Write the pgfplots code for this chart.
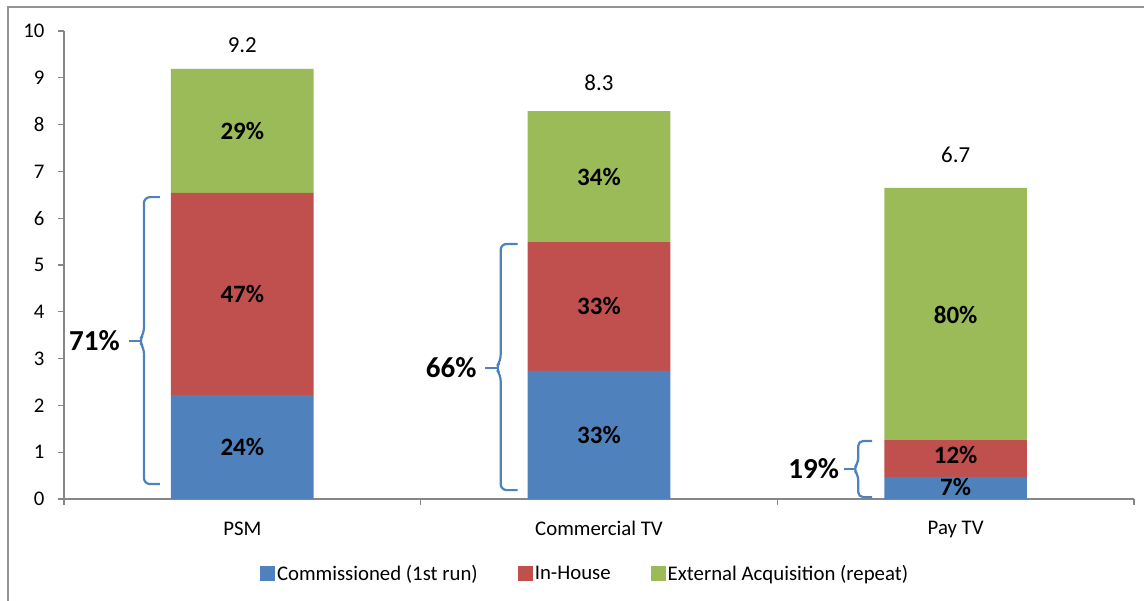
\documentclass[border=0pt]{standalone}
\usepackage{fontspec}
\setmainfont{Carlito}
\usepackage{pgfplots}
\usepackage{pgfplotstable}
\pgfplotsset{compat=1.18}

\definecolor{cblue}{HTML}{4F81BD}
\definecolor{cred}{HTML}{C0504D}
\definecolor{cgreen}{HTML}{9BBB59}
\definecolor{axgray}{HTML}{868686}

% shares of programme hours, stacked
\pgfplotstableread{
x comm inhouse ext
0 2.22 4.32 2.65
1 2.74 2.75 2.80
2 0.47 0.79 5.39
}\shares

% label positions (segment middles)
\pgfplotstableread{
x y label
0 1.11 24\%
0 4.38 47\%
0 7.86 29\%
1 1.37 33\%
1 4.12 33\%
1 6.88 34\%
2 0.26 7\%
2 0.94 12\%
2 3.94 80\%
}\seglabels

% totals, placed above the bars
\pgfplotstableread{
x y label
0 9.70 9.2
1 8.89 8.3
2 7.35 6.7
}\totals

\pgfplotsset{frame/.style={
    at={(64pt,102pt)}, anchor=south west,
    scale only axis, width=1070pt, height=468pt,
    xmin=-0.5, xmax=2.5, ymin=0, ymax=10}}

\begin{document}
\begin{tikzpicture}
\useasboundingbox (0,0) rectangle (1144pt,601pt);
\begin{axis}[
    frame,
    ybar stacked, bar width=0.4,
    axis x line*=bottom, axis y line*=left,
    axis line style={axgray, line width=1.3pt},
    xtick={-0.5,0.5,1.5,2.5}, xticklabels={},
    extra x ticks={0,1,2},
    extra x tick labels={PSM,Commercial TV,Pay TV},
    extra x tick style={major tick length=0pt, xticklabel style={yshift=-19pt}},
    ytick={0,1,...,10},
    yticklabel style={xshift=-10pt},
    tick align=outside,
    major tick length=6pt,
    tick style={axgray, line width=1.3pt},
    tick label style={font=\fontsize{20.8}{25}\selectfont},
    /pgf/number format/assume math mode=true,
    legend style={draw=none, at={(0.487,-0.160)}, anchor=center,
        legend columns=-1, font=\fontsize{20.8}{25}\selectfont,
        /tikz/every even column/.append style={column sep=38pt}},
    legend image code/.code={\fill[#1] (0pt,-7.5pt) rectangle (15pt,7.5pt);},
]
\addplot[fill=cblue, draw=none] table[x=x, y=comm] {\shares};
\addplot[fill=cred, draw=none] table[x=x, y=inhouse] {\shares};
\addplot[fill=cgreen, draw=none] table[x=x, y=ext] {\shares};
\legend{Commissioned (1st run), In-House, External Acquisition (repeat)}

% brackets
\draw[cblue, line width=2.2pt, rounded corners=6pt]
    (axis cs:-0.231,0.32) -- ([xshift=-16pt]axis cs:-0.231,0.32)
    -- ([xshift=-16pt,yshift=-7pt]axis cs:-0.231,3.38)
    -- ([xshift=-21pt]axis cs:-0.231,3.38)
    -- ([xshift=-16pt,yshift=7pt]axis cs:-0.231,3.38)
    -- ([xshift=-16pt]axis cs:-0.231,6.45) -- (axis cs:-0.231,6.45);
\draw[cblue, line width=2.2pt] ([xshift=-20pt]axis cs:-0.231,3.38) -- ([xshift=-31pt]axis cs:-0.231,3.38);
\node[anchor=east, font=\bfseries\fontsize{29}{34}\selectfont, inner sep=0pt]
    at ([xshift=-40pt]axis cs:-0.231,3.38) {71\%};

\draw[cblue, line width=2.2pt, rounded corners=6pt]
    (axis cs:0.772,0.19) -- ([xshift=-17pt]axis cs:0.772,0.19)
    -- ([xshift=-17pt,yshift=-7pt]axis cs:0.772,2.80)
    -- ([xshift=-22pt]axis cs:0.772,2.80)
    -- ([xshift=-17pt,yshift=7pt]axis cs:0.772,2.80)
    -- ([xshift=-17pt]axis cs:0.772,5.45) -- (axis cs:0.772,5.45);
\draw[cblue, line width=2.2pt] ([xshift=-21pt]axis cs:0.772,2.80) -- ([xshift=-33pt]axis cs:0.772,2.80);
\node[anchor=east, font=\bfseries\fontsize{29}{34}\selectfont, inner sep=0pt]
    at ([xshift=-41pt]axis cs:0.772,2.80) {66\%};

\draw[cblue, line width=2.2pt, rounded corners=5pt]
    (axis cs:1.766,0.04) -- ([xshift=-14pt]axis cs:1.766,0.04)
    -- ([xshift=-14pt,yshift=-6pt]axis cs:1.766,0.64)
    -- ([xshift=-19pt]axis cs:1.766,0.64)
    -- ([xshift=-14pt,yshift=6pt]axis cs:1.766,0.64)
    -- ([xshift=-14pt]axis cs:1.766,1.24) -- (axis cs:1.766,1.24);
\draw[cblue, line width=2.2pt] ([xshift=-18pt]axis cs:1.766,0.64) -- ([xshift=-28pt]axis cs:1.766,0.64);
\node[anchor=east, font=\bfseries\fontsize{29}{34}\selectfont, inner sep=0pt]
    at ([xshift=-33pt]axis cs:1.766,0.64) {19\%};
\end{axis}

% overlay axis: labels on top of the bars
\begin{axis}[frame, hide axis, clip=false]
\addplot[draw=none, nodes near coords, point meta=explicit symbolic,
    nodes near coords align=center,
    every node near coord/.append style={font=\bfseries\fontsize{25}{30}\selectfont, text=black}]
    table[meta=label] {\seglabels};
\addplot[draw=none, nodes near coords, point meta=explicit symbolic,
    nodes near coords align=center,
    every node near coord/.append style={font=\fontsize{22.9}{27}\selectfont, text=black}]
    table[meta=label] {\totals};
\end{axis}
\draw[gray!85, line width=1.5pt] (8pt,0pt) -- (8pt,594pt) -- (1144pt,594pt);
\end{tikzpicture}
\end{document}
